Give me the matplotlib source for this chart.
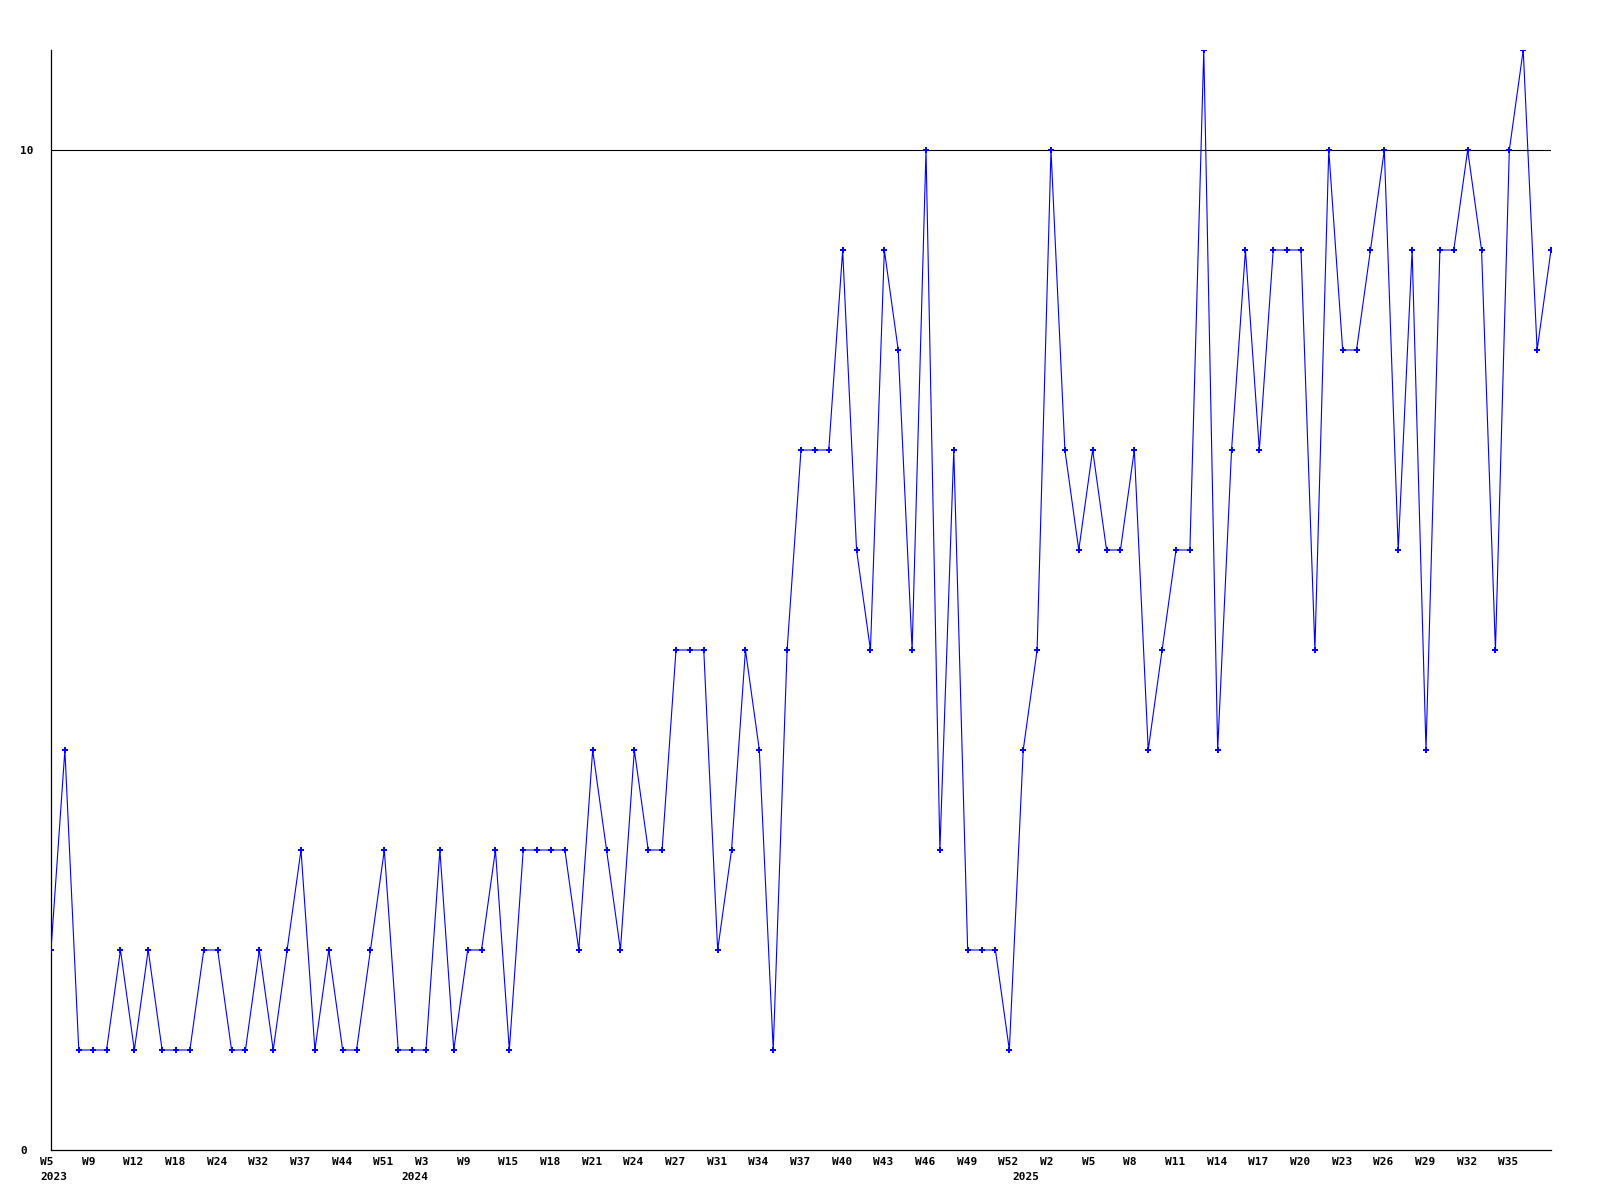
import matplotlib
matplotlib.use("Agg")
import matplotlib.pyplot as plt
from matplotlib.transforms import ScaledTranslation

# weekly counts, one point per observed week
values = [2, 4, 1, 1, 1, 2, 1, 2, 1, 1, 1, 2, 2, 1, 1, 2, 1, 2, 3, 1,
          2, 1, 1, 2, 3, 1, 1, 1, 3, 1, 2, 2, 3, 1, 3, 3, 3, 3, 2, 4,
          3, 2, 4, 3, 3, 5, 5, 5, 2, 3, 5, 4, 1, 5, 7, 7, 7, 9, 6, 5,
          9, 8, 5, 10, 3, 7, 2, 2, 2, 1, 4, 5, 10, 7, 6, 7, 6, 6, 7, 4,
          5, 6, 6, 11, 4, 7, 9, 7, 9, 9, 9, 5, 10, 8, 8, 9, 10, 6, 9, 4,
          9, 9, 10, 9, 5, 10, 11, 8, 9]

week_labels = ["W5", "W9", "W12", "W18", "W24", "W32", "W37", "W44", "W51",
               "W3", "W9", "W15", "W18", "W21", "W24", "W27", "W31", "W34",
               "W37", "W40", "W43", "W46", "W49", "W52", "W2", "W5", "W8",
               "W11", "W14", "W17", "W20", "W23", "W26", "W29", "W32", "W35"]
week_every = 3

year_labels = ["2023", "2024", "2025"]
year_pos = [0, 26, 70]

y_ticks = [0, 10]
ref_line = 10
y_max = 11

plt.rcParams["font.family"] = ["DejaVu Sans Mono"]
plt.rcParams["font.weight"] = "bold"
plt.rcParams["font.size"] = 8

x = list(range(len(values)))

fig = plt.figure(figsize=(16, 12), dpi=100)
ax = fig.add_axes([51 / 1600, 50 / 1200, 1500 / 1600, 1100 / 1200])

ax.axhline(ref_line, color="black", linewidth=0.8, zorder=1)
ax.plot(x, values, color="#0000ff", linewidth=0.8, marker="P",
        markersize=4.5, markeredgewidth=0, zorder=3)

ax.set_xlim(0, len(values) - 1)
ax.set_ylim(0, y_max)

for side in ["top", "right"]:
    ax.spines[side].set_visible(False)
for side in ["left", "bottom"]:
    ax.spines[side].set_linewidth(0.9)
    ax.spines[side].set_color("black")

# y axis: labels left-aligned at x=20px
ax.set_yticks(y_ticks)
ax.set_yticklabels([str(t) for t in y_ticks])
ax.tick_params(axis="y", length=0, pad=31 * 0.72)
for lab in ax.get_yticklabels():
    lab.set_horizontalalignment("left")

# x axis: week labels every 3rd point, year labels below
ax.set_xticks(x[::week_every][:len(week_labels)])
ax.set_xticklabels(week_labels)
ax.set_xticks(year_pos, minor=True)
ax.set_xticklabels(year_labels, minor=True)
ax.xaxis.remove_overlapping_locs = False
ax.tick_params(axis="x", which="major", length=0, pad=5)
ax.tick_params(axis="x", which="minor", length=0, pad=16)

shift = ScaledTranslation(-11 / 100, 0, fig.dpi_scale_trans)
for lab in ax.get_xticklabels() + ax.get_xticklabels(minor=True):
    lab.set_horizontalalignment("left")
    lab.set_transform(lab.get_transform() + shift)

fig.savefig("out.png", dpi=100, facecolor="white")
